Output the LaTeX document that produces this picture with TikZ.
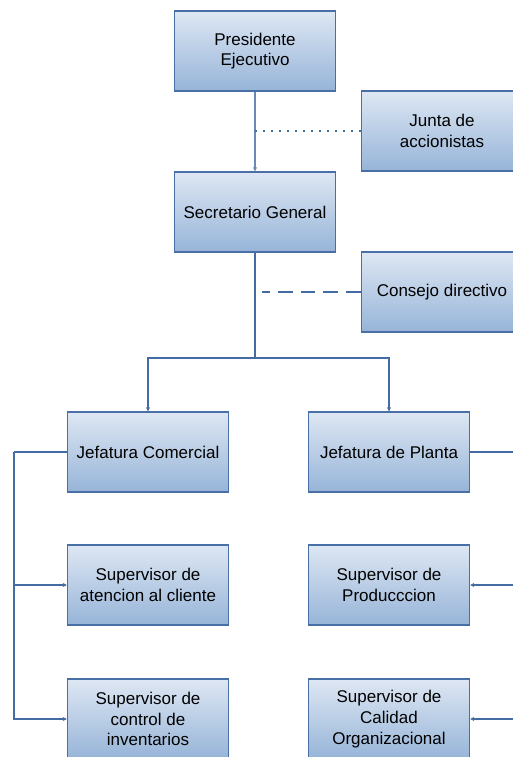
\documentclass[tikz,border=0pt]{standalone}
\usepackage{fontspec}
\setmainfont{Liberation Sans}
\usetikzlibrary{arrows.meta}
\definecolor{boxline}{RGB}{72,112,166}
\definecolor{boxtop}{RGB}{222,231,243}
\definecolor{boxbot}{RGB}{150,180,216}
\definecolor{wire}{RGB}{68,108,164}
\begin{document}
\begin{tikzpicture}[x=0.75pt, y=-0.75pt,
     font=\fontsize{12.75}{15.5}\selectfont,
     unit/.style={draw=boxline, line width=1.1pt, top color=boxtop, bottom color=boxbot,
                  minimum width=120.75pt, minimum height=60pt, align=center, inner sep=2pt},
     wire/.style={draw=wire, line width=0.9pt},
     tip/.style={-{Stealth[length=3pt,width=3pt]}}]
\useasboundingbox (0,0) rectangle (513,757);
\clip (0,0) rectangle (513,757);
% top of the chart
\node[unit] (pres) at (255,51) {Presidente\\Ejecutivo};
\node[unit] (junta) at (442,131) {Junta de\\accionistas};
\node[unit] (secre) at (255,212) {Secretario General};
\node[unit] (consejo) at (442,292) {Consejo directivo};
% heads
\node[unit] (jcom) at (148,452) {Jefatura Comercial};
\node[unit] (jpla) at (389,452) {Jefatura de Planta};
% supervisors
\node[unit] (satc) at (148,585) {Supervisor de\\atencion al cliente};
\node[unit] (sinv) at (148,719) {Supervisor de\\control de\\inventarios};
\node[unit] (sprod) at (389,585) {Supervisor de\\Producccion};
\node[unit] (scal) at (389,719) {Supervisor de\\Calidad\\Organizacional};
\coordinate (fork) at (255,358);
\coordinate (dashend) at (262,292);
\coordinate (lbus) at (14,452);
\coordinate (rbus) at (522,452);
\draw[wire, tip, line width=1.1pt, draw=wire!80] (pres) -- (secre);
\draw[wire, line width=0.8pt, dash pattern=on 1.5pt off 4.5pt] (junta.west) -- (junta.west -| pres.south);
\draw[wire, line width=1.1pt, dash pattern=on 11pt off 6pt] (consejo.west) -- (dashend);
\draw[wire, line width=1.4pt] (secre) -- (fork);
\foreach \n in {jcom, jpla}
    \draw[wire, tip] (fork) -| (\n);
\draw[wire, line width=1.1pt] (jcom) -- (lbus);
\draw[wire, line width=1.1pt] (jpla) -- (rbus);
\foreach \n in {satc, sinv}
    \draw[wire, tip] (lbus) |- (\n);
\foreach \n in {sprod, scal}
    \draw[wire, tip] (rbus) |- (\n);
\end{tikzpicture}
\end{document}
